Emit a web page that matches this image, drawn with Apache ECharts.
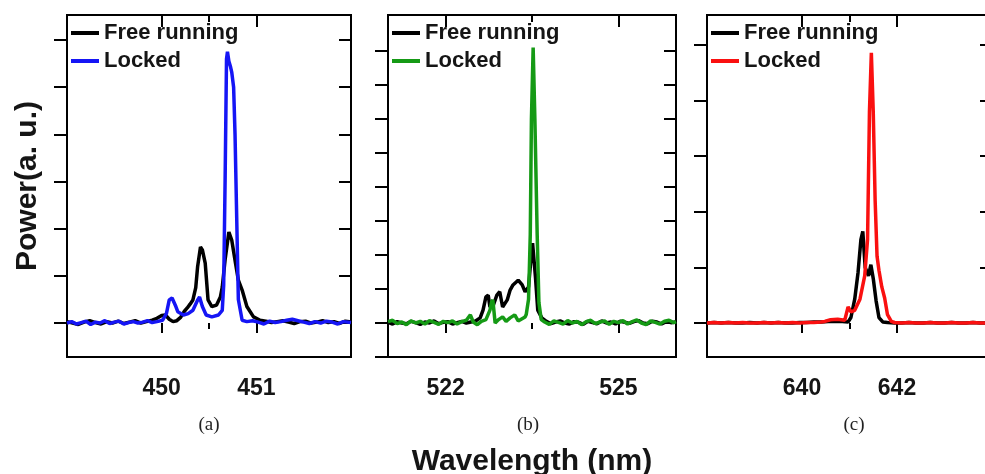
<!DOCTYPE html>
<html>
<head>
<meta charset="utf-8">
<script src="https://cdn.jsdelivr.net/npm/echarts@6/dist/echarts.min.js"></script>
<style>html,body{margin:0;padding:0;background:#fff;}#c{width:985px;height:474px;}</style>
</head>
<body>
<div id="c"></div>
<script>
// ---------- Panel (a): 450 nm ----------
const aFreeX = [449.00,449.06,449.12,449.18,449.24,449.30,449.36,449.42,449.48,449.54,449.60,449.66,449.72,449.78,449.84,449.90,449.95,
  450.00,450.04,450.08,450.12,450.16,450.20,450.24,450.27,450.30,450.33,450.36,450.38,450.41,450.43,450.46,450.49,450.53,450.58,450.62,450.64,450.67,450.71,450.74,450.78,450.81,450.85,450.90,450.97,
  451.04,451.10,451.16,451.22,451.28,451.34,451.40,451.46,451.52,451.58,451.64,451.70,451.76,451.82,451.88,451.94,452.00];
const aFreeY = [0.03,0.00,-0.03,0.02,0.05,0.01,-0.02,0.03,0.00,0.04,-0.01,0.02,0.05,0.00,0.03,0.06,0.10,
  0.16,0.17,0.08,0.03,0.05,0.12,0.25,0.32,0.40,0.49,0.75,1.20,1.61,1.55,1.27,0.49,0.35,0.38,0.55,0.76,1.34,1.93,1.76,1.27,0.91,0.70,0.35,0.13,
  0.06,0.04,0.01,0.03,0.05,0.02,-0.01,0.03,0.04,0.00,0.02,0.05,0.01,0.03,-0.01,0.04,0.02];
const aLockX = [449.00,449.05,449.10,449.15,449.20,449.25,449.30,449.35,449.40,449.45,449.50,449.55,449.60,449.65,449.70,449.75,449.80,449.85,449.90,449.95,
  450.01,450.05,450.08,450.11,450.15,450.17,450.23,450.28,450.33,450.38,450.40,450.43,450.47,450.53,450.60,450.64,450.655,450.67,450.685,450.695,450.71,450.725,450.74,450.76,450.775,450.79,450.81,450.85,450.90,450.96,
  451.02,451.08,451.14,451.20,451.26,451.32,451.38,451.44,451.50,451.56,451.62,451.68,451.74,451.80,451.86,451.92,452.00];
const aLockY = [0.00,0.03,-0.02,0.01,0.04,-0.03,0.02,0.00,0.05,-0.01,0.02,0.04,-0.02,0.01,0.03,0.00,0.02,0.05,0.01,0.03,
  0.06,0.20,0.49,0.53,0.35,0.24,0.17,0.20,0.27,0.49,0.55,0.35,0.17,0.13,0.17,0.27,0.80,3.00,5.60,5.75,5.55,5.45,5.32,5.00,4.00,2.50,0.50,0.06,0.03,0.05,
  0.02,-0.02,0.04,0.01,0.03,0.06,0.08,0.05,0.02,-0.01,0.03,0.00,0.04,0.02,-0.02,0.03,0.01];

// ---------- Panel (b): 523 nm ----------
const bFreeX = [521.00,521.08,521.16,521.24,521.32,521.40,521.48,521.56,521.64,521.72,521.80,521.88,521.96,522.04,522.12,522.20,522.28,522.36,522.44,522.52,
  522.60,522.65,522.70,522.74,522.77,522.83,522.89,522.94,522.99,523.07,523.12,523.17,523.26,523.33,523.38,523.44,523.48,523.51,523.56,523.60,523.67,
  523.75,523.83,523.91,523.99,524.07,524.15,524.23,524.31,524.39,524.47,524.55,524.63,524.71,524.79,524.87,524.95,525.03,525.11,525.19,525.27,525.35,525.43,525.51,525.59,525.67,525.75,525.83,525.91,526.00];
const bFreeY = [0.02,-0.03,0.04,0.00,-0.02,0.05,0.01,-0.04,0.03,0.00,0.06,-0.02,0.02,0.04,-0.03,0.01,0.05,0.00,0.03,0.06,
  0.15,0.38,0.77,0.82,0.47,0.53,0.82,0.92,0.47,0.68,0.97,1.12,1.26,1.12,0.92,1.06,1.85,2.35,1.35,0.38,0.15,
  0.05,-0.02,0.03,0.06,0.00,-0.03,0.04,0.02,-0.04,0.05,0.01,-0.02,0.06,0.00,0.03,-0.03,0.05,0.02,-0.01,0.04,0.07,0.00,-0.02,0.05,0.03,-0.03,0.04,0.01,0.03];
const bLockX = [521.00,521.08,521.16,521.24,521.32,521.40,521.48,521.56,521.64,521.72,521.80,521.88,521.96,522.04,522.12,522.20,522.28,522.36,
  522.43,522.48,522.55,522.62,522.70,522.77,522.80,522.82,522.86,522.92,522.99,523.05,523.12,523.20,523.26,523.32,523.38,523.40,523.44,523.47,523.49,523.52,523.55,523.59,523.62,523.66,
  523.72,523.80,523.88,523.96,524.04,524.12,524.20,524.28,524.36,524.44,524.52,524.60,524.68,524.76,524.84,524.92,525.00,525.08,525.16,525.24,525.32,525.40,525.48,525.56,525.64,525.72,525.80,525.88,525.96,526.00];
const bLockY = [0.04,0.08,-0.02,0.03,-0.05,0.06,0.00,0.05,-0.03,0.07,0.02,-0.04,0.05,0.01,0.06,-0.03,0.04,0.08,
  0.24,0.03,-0.05,0.05,0.10,0.38,0.62,0.68,0.00,0.10,0.18,0.05,0.15,0.24,0.06,0.12,0.18,0.25,0.70,2.60,6.00,8.10,6.00,2.60,0.60,0.10,
  0.03,-0.04,0.06,0.02,-0.03,0.07,0.00,0.05,-0.05,0.04,0.08,-0.02,0.03,0.06,-0.04,0.05,0.01,0.07,-0.03,0.04,0.09,0.00,-0.05,0.06,0.02,-0.03,0.05,0.08,0.01,0.04];

// ---------- Panel (c): 641 nm ----------
const cFreeX = [638.00,638.15,638.30,638.45,638.60,638.75,638.90,639.05,639.20,639.35,639.50,639.65,639.80,639.95,640.10,640.25,640.40,640.55,
  640.70,640.85,640.97,641.03,641.11,641.18,641.24,641.28,641.33,641.40,641.45,641.50,641.56,641.62,641.70,
  641.80,641.95,642.10,642.25,642.40,642.55,642.70,642.85,643.00,643.15,643.30,643.45,643.60,643.75,643.90,644.00];
const cFreeY = [0.00,0.01,0.00,0.01,0.00,0.00,0.01,0.00,0.01,0.00,0.01,0.00,0.00,0.01,0.01,0.02,0.02,0.03,
  0.03,0.03,0.02,0.10,0.43,0.91,1.50,1.65,1.00,0.85,1.05,0.80,0.40,0.10,0.02,
  0.01,0.00,0.00,0.01,0.00,0.00,0.01,0.00,0.00,0.01,0.00,0.00,0.01,0.00,0.00,0.00];
const cLockX = [638.00,638.15,638.30,638.45,638.60,638.75,638.90,639.05,639.20,639.35,639.50,639.65,639.80,639.95,640.10,640.25,640.40,
  640.48,640.60,640.75,640.90,640.97,641.03,641.11,641.22,641.32,641.38,641.42,641.46,641.50,641.54,641.58,641.62,641.68,641.74,641.80,641.88,
  641.95,642.10,642.25,642.40,642.55,642.70,642.85,643.00,643.15,643.30,643.45,643.60,643.75,643.90,644.00];
const cLockY = [0.00,0.01,0.00,0.01,0.00,0.01,0.00,0.00,0.01,0.00,0.01,0.00,0.01,0.00,0.01,0.01,0.02,
  0.03,0.06,0.07,0.05,0.29,0.20,0.23,0.43,0.85,1.50,3.80,4.86,3.80,2.20,1.20,0.95,0.65,0.45,0.15,0.03,
  0.01,0.00,0.01,0.00,0.00,0.01,0.00,0.00,0.01,0.00,0.00,0.01,0.00,0.00,0.00];

// ---------- Axes / labels ----------
const panelLetters = ['(a)', '(b)', '(c)'];
const xRanges = [[449, 452], [521, 526], [638, 644]];
const xMajor = [[450, 451], [522, 525], [640, 642]];
const xMinor = [[450.5], [523.5], [641]];
const yRanges = [[-0.72, 6.53], [-1, 9.06], [-0.61, 5.54]];
const yTicks = [[0,1,2,3,4,5,6], [-1,0,1,2,3,4,5,6,7,8], [0,1,2,3,4,5]];
const seriesNames = ['Free running', 'Locked'];
const lockColors = ['#1515f5', '#159a15', '#fa1010'];
const yAxisTitle = 'Power(a. u.)';
const xAxisTitle = 'Wavelength (nm)';

const FONT = '"Liberation Sans", Arial, sans-serif';
const TXT = '#151515';
const grids = [
  {left: 67, top: 15, width: 284, height: 342},
  {left: 388, top: 15, width: 288, height: 342},
  {left: 707, top: 15, width: 285, height: 342}
];
const data = [
  [aFreeX, aFreeY, aLockX, aLockY],
  [bFreeX, bFreeY, bLockX, bLockY],
  [cFreeX, cFreeY, cLockX, cLockY]
];
const pair = (xs, ys) => xs.map((x, i) => [x, ys[i]]);
const tickLS = {color: '#000', width: 2};

const xAxis = [], yAxis = [], series = [], legend = [], graphic = [];
for (let g = 0; g < 3; g++) {
  const [mn, mx] = xRanges[g];
  const base = {type: 'value', gridIndex: g, min: mn, max: mx, splitLine: {show: false}, axisLine: {show: false}};
  xAxis.push(Object.assign({}, base, {
    position: 'bottom',
    axisTick: {show: true, customValues: xMajor[g], length: 10, lineStyle: tickLS},
    axisLabel: {show: true, customValues: xMajor[g], fontSize: 23, fontWeight: 'bold', fontFamily: FONT, color: TXT, margin: 20},
    name: g === 1 ? xAxisTitle : '', nameLocation: 'middle', nameGap: 90,
    nameTextStyle: {fontSize: 30, fontWeight: 'bold', fontFamily: FONT, color: TXT}
  }));
  xAxis.push(Object.assign({}, base, {
    position: 'bottom',
    axisTick: {show: true, customValues: xMinor[g], length: 6, lineStyle: tickLS},
    axisLabel: {show: false}
  }));
  xAxis.push(Object.assign({}, base, {
    position: 'top',
    axisTick: {show: true, inside: true, customValues: xMajor[g], length: 12, lineStyle: tickLS},
    axisLabel: {show: false}
  }));
  xAxis.push(Object.assign({}, base, {
    position: 'top',
    axisTick: {show: true, inside: true, customValues: xMinor[g], length: 7, lineStyle: tickLS},
    axisLabel: {show: false}
  }));
  const [ymn, ymx] = yRanges[g];
  const ybase = {type: 'value', gridIndex: g, min: ymn, max: ymx, splitLine: {show: false}, axisLine: {show: false}, axisLabel: {show: false}};
  yAxis.push(Object.assign({}, ybase, {
    position: 'left',
    axisTick: {show: true, customValues: yTicks[g], length: 13, lineStyle: tickLS},
    name: g === 0 ? yAxisTitle : '', nameLocation: 'middle', nameGap: 24,
    nameTextStyle: {fontSize: 30, fontWeight: 'bold', fontFamily: FONT, color: TXT}
  }));
  yAxis.push(Object.assign({}, ybase, {
    position: 'right',
    axisTick: {show: true, inside: true, customValues: yTicks[g], length: 12, lineStyle: tickLS}
  }));
  const [fx, fy, lx, ly] = data[g];
  const idFree = 'p' + g + '_free', idLock = 'p' + g + '_lock';
  series.push({
    type: 'line', name: idFree, xAxisIndex: g * 4, yAxisIndex: g * 2, data: pair(fx, fy),
    showSymbol: false, symbol: 'none', color: '#000', lineStyle: {width: 3.5, color: '#000'}, z: 2, animation: false
  });
  series.push({
    type: 'line', name: idLock, xAxisIndex: g * 4, yAxisIndex: g * 2, data: pair(lx, ly),
    showSymbol: false, symbol: 'none', color: lockColors[g], lineStyle: {width: 3.5, color: lockColors[g]}, z: 3, animation: false
  });
  legend.push({
    data: [idFree, idLock], orient: 'vertical', left: grids[g].left - 1, top: 17,
    icon: 'rect', itemWidth: 28, itemHeight: 4, itemGap: 6, selectedMode: false,
    formatter: (n) => n.endsWith('free') ? seriesNames[0] : seriesNames[1],
    textStyle: {fontSize: 22, fontWeight: 'bold', fontFamily: FONT, color: TXT, padding: [0, 0, 0, 0]}
  });
  graphic.push({
    type: 'text', x: [209, 528, 854][g], y: 425,
    style: {text: panelLetters[g], textAlign: 'center', textVerticalAlign: 'middle',
      font: '19px "Liberation Serif", "Times New Roman", serif', fill: '#222'}
  });
}

const chart = echarts.init(document.getElementById('c'), null, {renderer: 'canvas'});
chart.setOption({
  animation: false,
  backgroundColor: '#fff',
  grid: grids.map(gr => Object.assign({show: true, borderColor: '#000', borderWidth: 2, backgroundColor: 'transparent',
    containLabel: false, outerBoundsMode: 'none'}, gr)),
  xAxis, yAxis, series, legend, graphic
});
</script>
</body>
</html>
